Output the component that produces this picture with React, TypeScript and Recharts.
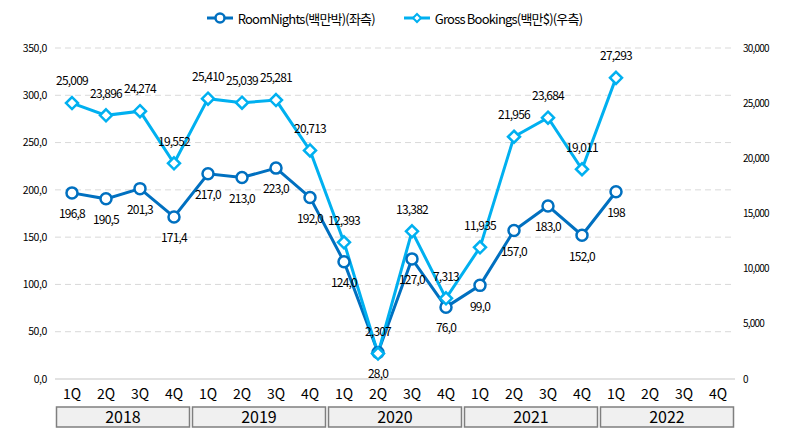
import React from "react";
import {
  ComposedChart,
  Line,
  XAxis,
  YAxis,
  CartesianGrid,
  Legend,
  LabelList,
} from "recharts";

const years = ["2018", "2019", "2020", "2021", "2022"];
const quarters = ["1Q", "2Q", "3Q", "4Q"];

// RoomNights (백만박), left axis
const roomNights = [
  196.8, 190.5, 201.3, 171.4, 217.0, 213.0, 223.0, 192.0, 124.0, 28.0, 127.0, 76.0,
  99.0, 157.0, 183.0, 152.0, 198, null, null, null,
];
const roomNightLabels = [
  "196,8", "190,5", "201,3", "171,4", "217,0", "213,0", "223,0", "192,0", "124,0", "28,0",
  "127,0", "76,0", "99,0", "157,0", "183,0", "152,0", "198",
];

// Gross Bookings (백만$), right axis
const grossBookings = [
  25009, 23896, 24274, 19552, 25410, 25039, 25281, 20713, 12393, 2307, 13382, 7313,
  11935, 21956, 23684, 19011, 27293, null, null, null,
];

const leftTicks = [0, 50, 100, 150, 200, 250, 300, 350];
const rightTicks = [0, 5000, 10000, 15000, 20000, 25000, 30000];

const RN_COLOR = "#0070C0";
const GB_COLOR = "#00B0F0";
const FONT = "'Noto Sans CJK KR', 'Noto Sans', sans-serif";
const BAND = 34;

const data = years.flatMap((y, yi) =>
  quarters.map((q, qi) => {
    const i = yi * 4 + qi;
    return { key: `${y}-${q}`, year: y, q, rn: roomNights[i], gb: grossBookings[i] };
  })
);

const QuarterTick = (props: any) => {
  const { x, y, payload, index } = props;
  const row = data[index] || data.find((d) => d.key === payload.value);
  return (
    <g>
      <text x={x} y={y + 20} textAnchor="middle" fontSize={14} fill="#000" fontFamily={FONT}>
        {row ? row.q : ""}
      </text>
      {index % 4 === 0 && (
        <g>
          <rect
            x={x - BAND / 2 + 1.5}
            y={y + 28}
            width={BAND * 4 - 3}
            height={20}
            fill="#f0f0f0"
            stroke="#7f7f7f"
            strokeWidth={1.5}
          />
          <text
            x={x - BAND / 2 + BAND * 2}
            y={y + 44}
            textAnchor="middle"
            fontSize={16}
            fill="#000"
            fontFamily={FONT}
          >
            {row ? row.year : ""}
          </text>
        </g>
      )}
    </g>
  );
};

const CircleDot = (props: any) => {
  const { cx, cy, value } = props;
  if (value == null || cx == null || cy == null) return null;
  return <circle cx={cx} cy={cy} r={5.5} fill="#fff" stroke={RN_COLOR} strokeWidth={2.5} />;
};

const DiamondDot = (props: any) => {
  const { cx, cy, value } = props;
  if (value == null || cx == null || cy == null) return null;
  const s = 6;
  return (
    <path
      d={`M${cx},${cy - s} L${cx + s},${cy} L${cx},${cy + s} L${cx - s},${cy} Z`}
      fill="#fff"
      stroke={GB_COLOR}
      strokeWidth={2.5}
    />
  );
};

const RnLabel = (props: any) => {
  const { x, y, value, index } = props;
  if (value == null) return null;
  return (
    <text
      x={x}
      y={y + 22}
      textAnchor="middle"
      dominantBaseline="middle"
      fontSize={12}
      letterSpacing={-0.8}
      fill="#000"
      fontFamily={FONT}
    >
      {roomNightLabels[index]}
    </text>
  );
};

const GbLabel = (props: any) => {
  const { x, y, value } = props;
  if (value == null) return null;
  return (
    <text
      x={x}
      y={y - 21}
      textAnchor="middle"
      dominantBaseline="middle"
      fontSize={12}
      letterSpacing={-0.8}
      fill="#000"
      fontFamily={FONT}
    >
      {Number(value).toLocaleString("en-US")}
    </text>
  );
};

const LegendContent = () => (
  <div
    style={{
      height: 40,
      display: "flex",
      justifyContent: "center",
      alignItems: "flex-start",
      fontFamily: FONT,
      fontSize: 13,
      letterSpacing: -0.8,
      color: "#000",
    }}
  >
    <div style={{ display: "flex", alignItems: "center", height: 20, marginRight: 28 }}>
      <svg width={28} height={14} style={{ marginRight: 4 }}>
        <line x1={1} y1={7} x2={27} y2={7} stroke={RN_COLOR} strokeWidth={3} />
        <circle cx={14} cy={7} r={4.5} fill="#fff" stroke={RN_COLOR} strokeWidth={2.5} />
      </svg>
      <span>RoomNights(백만박)(좌측)</span>
    </div>
    <div style={{ display: "flex", alignItems: "center", height: 20 }}>
      <svg width={28} height={14} style={{ marginRight: 4 }}>
        <line x1={1} y1={7} x2={27} y2={7} stroke={GB_COLOR} strokeWidth={3} />
        <path d="M14,3 L18,7 L14,11 L10,7 Z" fill="#fff" stroke={GB_COLOR} strokeWidth={2} />
      </svg>
      <span>Gross Bookings(백만$)(우측)</span>
    </div>
  </div>
);

export default function App() {
  return (
    <div style={{ position: "absolute", left: 0, top: 0, width: 788, height: 440, background: "#fff" }}>
      <ComposedChart
        width={788}
        height={440}
        data={data}
        margin={{ top: 8, right: 0, bottom: 11, left: 0 }}
      >
        <CartesianGrid
          yAxisId="left"
          vertical={false}
          stroke="#d9d9d9"
          strokeDasharray="6 4"
          horizontalValues={leftTicks.slice(1)}
        />
        <Legend verticalAlign="top" content={<LegendContent />} />
        <XAxis
          dataKey="key"
          height={50}
          interval={0}
          padding={{ left: BAND / 2, right: BAND / 2 }}
          tickSize={0}
          tickMargin={0}
          tickLine={false}
          axisLine={{ stroke: "#d9d9d9", strokeWidth: 1.5 }}
          tick={<QuarterTick />}
        />
        <YAxis
          yAxisId="left"
          orientation="left"
          width={55}
          domain={[0, 350]}
          ticks={leftTicks}
          interval={0}
          axisLine={false}
          tickLine={false}
          tick={{ fontSize: 10.5, fill: "#000", fontFamily: FONT, letterSpacing: -0.4 }}
          tickFormatter={(v: number) => v.toFixed(1).replace(".", ",")}
        />
        <YAxis
          yAxisId="right"
          orientation="right"
          width={53}
          domain={[0, 30000]}
          ticks={rightTicks}
          interval={0}
          axisLine={false}
          tickLine={false}
          tick={{ fontSize: 10, fill: "#000", fontFamily: FONT, letterSpacing: -0.8, textAnchor: "start" }}
          tickFormatter={(v: number) => v.toLocaleString("en-US")}
        />
        <Line
          yAxisId="left"
          dataKey="rn"
          name="RoomNights(백만박)(좌측)"
          stroke={RN_COLOR}
          strokeWidth={3}
          dot={<CircleDot />}
          activeDot={false}
          isAnimationActive={false}
        >
          <LabelList dataKey="rn" content={<RnLabel />} />
        </Line>
        <Line
          yAxisId="right"
          dataKey="gb"
          name="Gross Bookings(백만$)(우측)"
          stroke={GB_COLOR}
          strokeWidth={3}
          dot={<DiamondDot />}
          activeDot={false}
          isAnimationActive={false}
        >
          <LabelList dataKey="gb" content={<GbLabel />} />
        </Line>
      </ComposedChart>
    </div>
  );
}
